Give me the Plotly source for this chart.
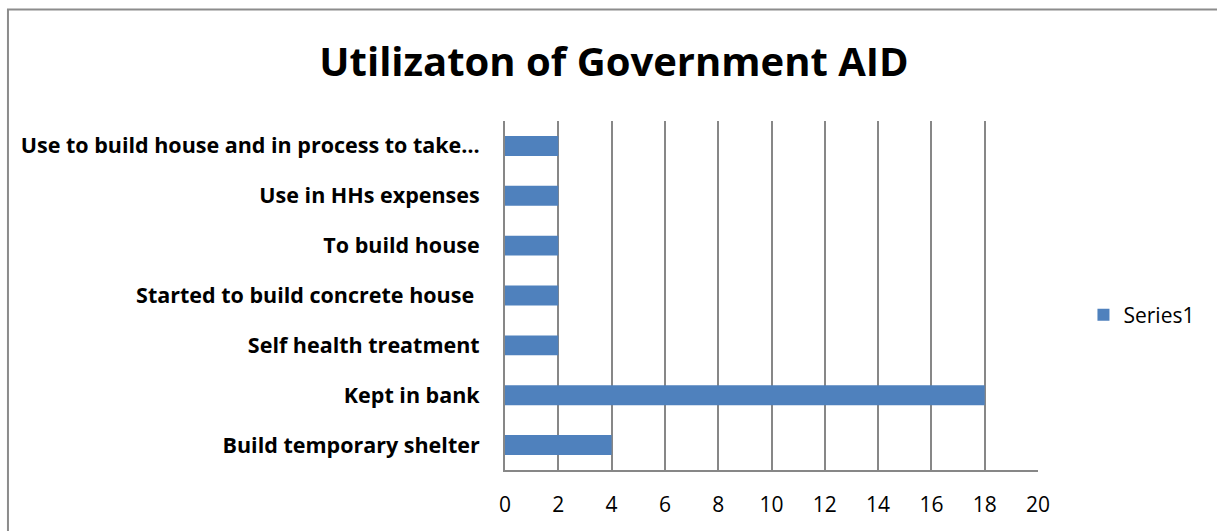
import plotly.graph_objects as go

# Aid usage categories (bottom to top) and number of households
categories = [
    "Build temporary shelter",
    "Kept in bank",
    "Self health treatment",
    "Started to build concrete house\u00a0",
    "To build house",
    "Use in HHs expenses",
    "Use to build house and in process to take…",
]
households = [4, 18, 2, 2, 2, 2, 2]
x_ticks = list(range(0, 21, 2))

W, H = 1217, 531
L, R, T, B = 505, 178.5, 121, 61
pw, ph = W - L - R, H - T - B

def px_x(p):
    return (p - L) / pw

def px_y(p):
    return (H - B - p) / ph

FONT = "Open Sans"
GRID = "#878787"

fig = go.Figure(
    go.Bar(
        x=households,
        y=categories,
        orientation="h",
        name="Series1",
        marker=dict(color="#4F81BD", line=dict(width=0)),
    )
)

fig.update_layout(
    width=W,
    height=H,
    margin=dict(l=L, r=R, t=T, b=B, autoexpand=False),
    paper_bgcolor="white",
    plot_bgcolor="white",
    bargap=0.6,
    font=dict(family=FONT, color="black"),
    title=dict(
        text="<b>Utilizaton of Government AID</b>",
        x=614 / W,
        xref="container",
        xanchor="center",
        y=1 - 62 / H,
        yref="container",
        yanchor="middle",
        font=dict(family=FONT, size=40, color="black"),
    ),
    showlegend=True,
    legend=dict(
        x=px_x(1084),
        xanchor="left",
        y=px_y(315),
        yanchor="middle",
        font=dict(family=FONT, size=21, color="black"),
        itemwidth=30,
        bgcolor="rgba(0,0,0,0)",
    ),
    xaxis=dict(
        range=[0, 20],
        tickvals=x_ticks,
        ticktext=[str(v) for v in x_ticks],
        showgrid=True,
        gridcolor=GRID,
        gridwidth=2,
        zeroline=False,
        showline=True,
        linecolor=GRID,
        linewidth=2,
        ticks="",
        ticklabelstandoff=15,
        tickfont=dict(family=FONT, size=21, color="black"),
        fixedrange=True,
    ),
    yaxis=dict(
        showgrid=False,
        zeroline=False,
        showline=True,
        linecolor=GRID,
        linewidth=2,
        ticks="",
        ticklabelstandoff=19,
        tickfont=dict(family=FONT, size=21.5, color="black", weight="bold"),
        fixedrange=True,
    ),
    shapes=[
        dict(
            type="rect",
            xref="paper",
            yref="paper",
            x0=px_x(7.5),
            x1=px_x(W + 20),
            y0=px_y(H + 20),
            y1=px_y(9.5),
            line=dict(color="#8c8c8c", width=2),
            fillcolor="rgba(0,0,0,0)",
            layer="below",
        )
    ],
)

fig.write_html("out.html")
